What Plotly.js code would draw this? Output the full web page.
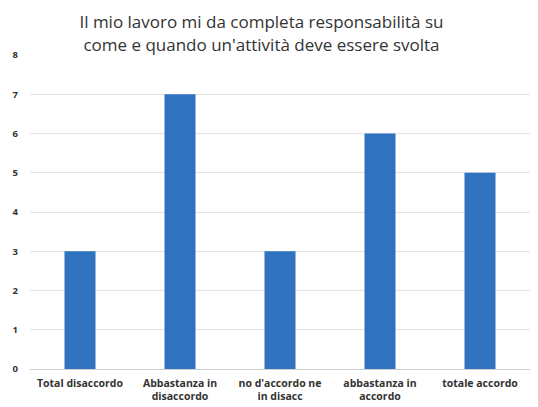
<!DOCTYPE html>
<html><head><meta charset="utf-8">
<script src="https://cdn.plot.ly/plotly-3.0.1.min.js"></script>
<style>html,body{margin:0;padding:0;background:#fff}#c{width:538px;height:407px}</style>
</head><body><div id="c"></div>
<script>
const categories = ["Total disaccordo", "Abbastanza in<br>disaccordo", "no d'accordo ne<br>in disacc", "abbastanza in<br>accordo", "totale accordo"];
const values = [3, 7, 3, 6, 5];
const yTicks = [0, 1, 2, 3, 4, 5, 6, 7, 8];
const titleText = "Il mio lavoro mi da completa responsabilità su<br>come e quando un'attività deve essere svolta";

Plotly.newPlot('c', [{
  type: 'bar', x: categories, y: values,
  marker: {color: '#2f72c0'}, hoverinfo: 'none'
}], {
  width: 538, height: 407,
  margin: {l: 30, r: 8, t: 55, b: 38},
  paper_bgcolor: '#fff', plot_bgcolor: '#fff',
  bargap: 0.69,
  font: {family: 'Open Sans, sans-serif', color: '#333'},
  title: {text: titleText, x: 0.486, xanchor: 'center', y: 0.93, yanchor: 'middle',
          font: {size: 17, color: '#333', family: 'Open Sans, sans-serif'}},
  xaxis: {type: 'category', range: [-0.5, 4.5], showgrid: false, zeroline: false,
          showline: true, linecolor: '#d0d0d0', linewidth: 1, ticklabelstandoff: 4,
          tickfont: {size: 10.5, color: '#333', family: 'Open Sans, sans-serif', weight: 'bold'}},
  yaxis: {range: [0, 8], tickvals: yTicks, showgrid: true, gridcolor: '#e2e2e2', gridwidth: 1,
          zeroline: false, showline: false, ticklabelstandoff: 11,
          tickfont: {size: 9.5, color: '#333', weight: 'bold'}},
  showlegend: false
}, {staticPlot: true});
</script></body></html>
